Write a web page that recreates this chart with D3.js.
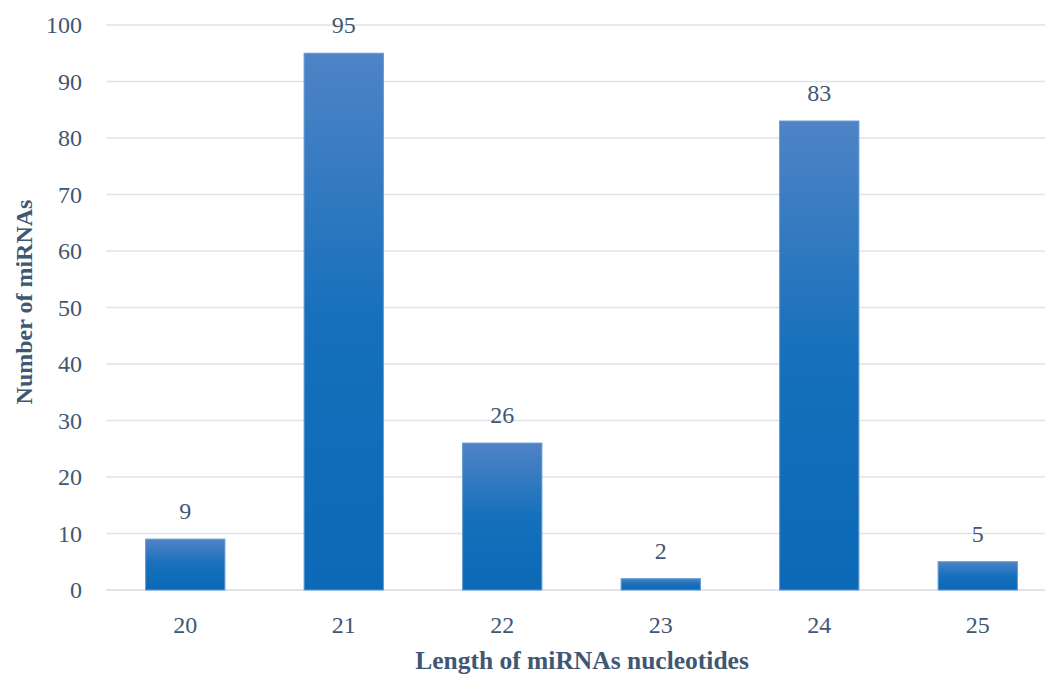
<!DOCTYPE html>
<html>
<head>
<meta charset="utf-8">
<script src="https://cdn.jsdelivr.net/npm/d3@7"></script>
<style>
  html, body { margin: 0; padding: 0; background: #ffffff; }
  svg { display: block; }
  text { font-family: "Liberation Serif", "DejaVu Serif", serif; fill: #3f5774; }
</style>
</head>
<body>
<svg id="chart" width="1045" height="676"></svg>
<script>
// Nucleotide lengths and number of miRNAs of each length
const lengths = ["20", "21", "22", "23", "24", "25"];
const counts = [9, 95, 26, 2, 83, 5];
const yTicks = [0, 10, 20, 30, 40, 50, 60, 70, 80, 90, 100];
const xTitle = "Length of miRNAs nucleotides";
const yTitle = "Number of miRNAs";

const svg = d3.select("#chart");
const plot = { left: 106, right: 1057, top: 25, bottom: 590 };

const x = d3.scaleBand().domain(lengths).range([plot.left, plot.right]).paddingInner(0.5).paddingOuter(0.25);
const y = d3.scaleLinear().domain([0, 100]).range([plot.bottom, plot.top]);

// Vertical gradient for the bars
const defs = svg.append("defs");
const grad = defs.append("linearGradient")
  .attr("id", "barFill").attr("x1", 0).attr("y1", 0).attr("x2", 0).attr("y2", 1);
grad.append("stop").attr("offset", "0%").attr("stop-color", "#4f83c6");
grad.append("stop").attr("offset", "50%").attr("stop-color", "#1670bb");
grad.append("stop").attr("offset", "100%").attr("stop-color", "#0b69b7");

// Horizontal gridlines
svg.append("g")
  .selectAll("line")
  .data(yTicks)
  .join("line")
  .attr("x1", plot.left).attr("x2", plot.right)
  .attr("y1", d => y(d)).attr("y2", d => y(d))
  .attr("stroke", d => d === 0 ? "#d3dae6" : "#dde3ec")
  .attr("stroke-width", 1.5);

// Y tick labels
svg.append("g")
  .selectAll("text")
  .data(yTicks)
  .join("text")
  .attr("x", 82).attr("y", d => y(d))
  .attr("dy", "0.35em")
  .attr("text-anchor", "end")
  .style("font-size", "24px")
  .text(d => d);

// Bars
svg.append("g")
  .selectAll("rect")
  .data(counts)
  .join("rect")
  .attr("x", (d, i) => x(lengths[i]))
  .attr("width", x.bandwidth())
  .attr("y", d => y(d))
  .attr("height", d => y(0) - y(d))
  .attr("fill", "url(#barFill)")
  .attr("stroke", "#5e97d3")
  .attr("stroke-width", 1);

// Value labels above bars
svg.append("g")
  .selectAll("text")
  .data(counts)
  .join("text")
  .attr("x", (d, i) => x(lengths[i]) + x.bandwidth() / 2)
  .attr("y", d => y(d) - 20)
  .attr("text-anchor", "middle")
  .style("font-size", "24px")
  .text(d => d);

// X tick labels
svg.append("g")
  .selectAll("text")
  .data(lengths)
  .join("text")
  .attr("x", d => x(d) + x.bandwidth() / 2)
  .attr("y", 633)
  .attr("text-anchor", "middle")
  .style("font-size", "24px")
  .text(d => d);

// Axis titles
svg.append("text")
  .attr("x", 582).attr("y", 669)
  .attr("text-anchor", "middle")
  .style("font-size", "25.5px")
  .style("font-weight", "bold")
  .text(xTitle);

svg.append("text")
  .attr("transform", "translate(32,302) rotate(-90)")
  .attr("text-anchor", "middle")
  .style("font-size", "24px")
  .style("font-weight", "bold")
  .text(yTitle);
</script>
</body>
</html>
